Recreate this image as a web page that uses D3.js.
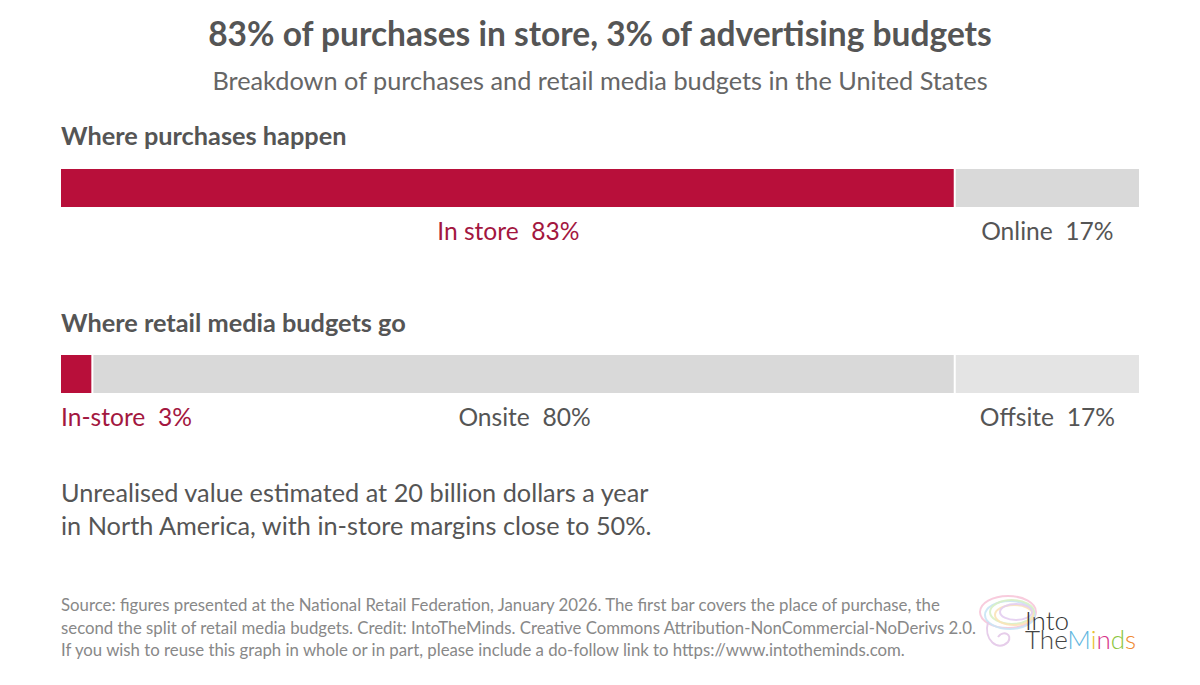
<!DOCTYPE html>
<html><head><meta charset="utf-8">
<script src="https://cdn.jsdelivr.net/npm/d3@7"></script>
<style>
html,body{margin:0;padding:0;background:#fff;}
svg text{font-family:Lato,"Open Sans",sans-serif;white-space:pre;}
</style></head>
<body>
<svg id="chart" width="1200" height="685"></svg>
<script>
const titleText = "83% of purchases in store, 3% of advertising budgets";
const subtitleText = "Breakdown of purchases and retail media budgets in the United States";
const barTitles = ["Where purchases happen", "Where retail media budgets go"];
const purchaseCategories = ["In store", "Online"];
const purchaseValues = [83, 17];
const budgetCategories = ["In-store", "Onsite", "Offsite"];
const budgetValues = [3, 80, 17];
const noteLines = ["Unrealised value estimated at 20 billion dollars a year",
                   "in North America, with in-store margins close to 50%."];
const sourceLines = [
 "Source: figures presented at the National Retail Federation, January 2026. The first bar covers the place of purchase, the",
 "second the split of retail media budgets. Credit: IntoTheMinds. Creative Commons Attribution-NonCommercial-NoDerivs 2.0.",
 "If you wish to reuse this graph in whole or in part, please include a do-follow link to https://www.intotheminds.com."
];

const svg = d3.select("#chart");
const W = 1200;
const RED = "#b80f3a", RED_TXT = "#a3173f", GREY = "#d9d9d9", LGREY = "#e4e4e4", DARK = "#555555";

svg.append("text").attr("x", W/2).attr("y", 46).attr("text-anchor","middle")
  .attr("font-size", 33.5).attr("font-weight", 700).attr("fill", DARK).text(titleText);
svg.append("text").attr("x", W/2).attr("y", 90).attr("text-anchor","middle")
  .attr("font-size", 25.3).attr("fill", "#666").text(subtitleText);

const x = d3.scaleLinear().domain([0, 100]).range([61, 1139]);

function drawBar(title, cats, vals, colors, txtColors, titleY, barY) {
  svg.append("text").attr("x", 61).attr("y", titleY).attr("font-size", 25.3)
    .attr("font-weight", 700).attr("fill", DARK).text(title);
  let cum = 0;
  const segs = cats.map((c, i) => { const s = {cat: c, v: vals[i], x0: cum, x1: cum + vals[i], last: i === cats.length - 1, i}; cum += vals[i]; return s; });
  const g = svg.append("g");
  g.selectAll("rect").data(segs).enter().append("rect")
    .attr("x", d => x(d.x0))
    .attr("y", barY)
    .attr("width", d => x(d.x1) - x(d.x0) - (d.last ? 0 : 2))
    .attr("height", 38)
    .attr("fill", d => colors[d.i]);
  g.selectAll("text").data(segs).enter().append("text")
    .attr("x", d => (x(d.x1) - x(d.x0) < 100) ? x(d.x0) : (x(d.x0) + x(d.x1)) / 2)
    .attr("text-anchor", d => (x(d.x1) - x(d.x0) < 100) ? "start" : "middle")
    .attr("y", barY + 71)
    .attr("font-size", 24.6)
    .attr("fill", d => txtColors[d.i])
    .text(d => d.cat + "  " + d.v + "%");
}

drawBar(barTitles[0], purchaseCategories, purchaseValues, [RED, GREY], [RED_TXT, DARK], 145, 169);
drawBar(barTitles[1], budgetCategories, budgetValues, [RED, GREY, LGREY], [RED_TXT, DARK, DARK], 332, 355);

svg.append("g").selectAll("text").data(noteLines).enter().append("text")
  .attr("x", 61).attr("y", (d, i) => 502 + i * 33).attr("font-size", 25.3).attr("fill", DARK).text(d => d);

svg.append("g").selectAll("text").data(sourceLines).enter().append("text")
  .attr("x", 61).attr("y", (d, i) => 611 + i * 22.5).attr("font-size", 16.8).attr("fill", "#888").text(d => d);

// logo
const logo = svg.append("g");
const brainCols = ["#f7c6d9", "#c9e4f5", "#d8f0c4", "#fbe3b8", "#e3cdef"];
brainCols.forEach((c, i) => {
  logo.append("ellipse").attr("cx", 1008 + i*2).attr("cy", 612 + (i%2)*3)
    .attr("rx", 28 - i*3).attr("ry", 16 - i*2)
    .attr("fill", "none").attr("stroke", c).attr("stroke-width", 2).attr("opacity", 0.9);
});
logo.append("path").attr("d", "M988,622 C983,640 998,652 1008,642 C1013,634 1003,630 998,637")
  .attr("fill","none").attr("stroke","#e6cdea").attr("stroke-width",2);
const lt = logo.append("text").attr("x", 1025).attr("y", 630).attr("font-family", "'Open Sans',sans-serif")
  .attr("font-weight", 300).attr("font-size", 26);
lt.append("tspan").attr("x", 1025).attr("y", 630).attr("fill", "#333").text("Into");
const tm = lt.append("tspan").attr("x", 1025).attr("y", 649);
[["The","#444"],["M","#5fb6e0"],["i","#e8c230"],["n","#d8338a"],["d","#8cc63e"],["s","#f08a30"]]
  .forEach(([t, c]) => tm.append("tspan").attr("fill", c).text(t));
</script>
</body></html>
